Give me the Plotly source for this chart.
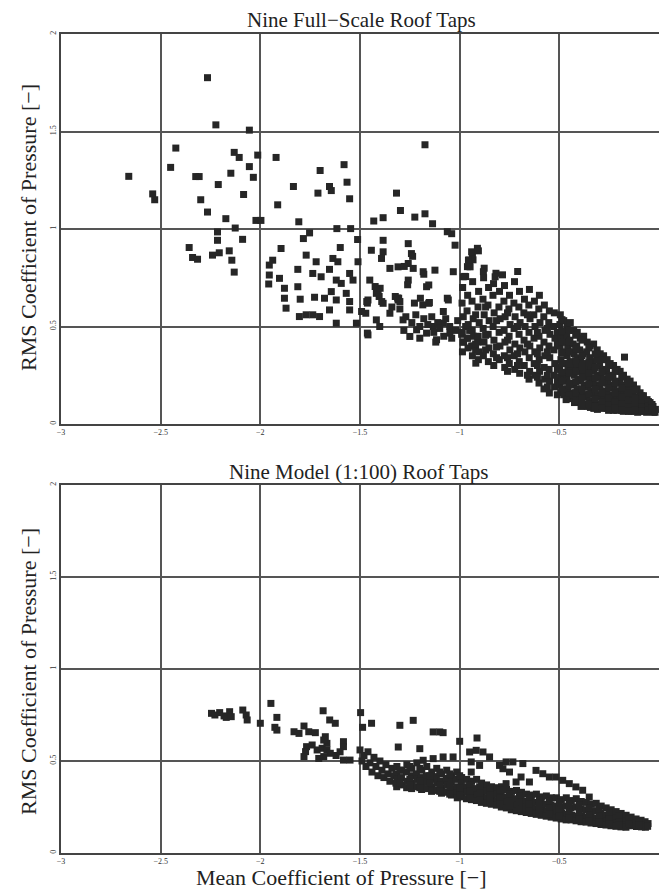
import plotly.graph_objects as go

# ---------------- data ----------------
# Nine Full-Scale Roof Taps : (mean Cp, rms Cp)
full_scale_taps = [
    (-2.66,1.27),(-2.54,1.18),(-2.53,1.15),(-2.424,1.415),(-2.45,1.316),(-2.324,1.269),(-2.307,1.269),
    (-2.265,1.776),(-2.223,1.534),(-2.055,1.507),(-2.131,1.393),(-2.106,1.367),(-2.013,1.379),(-1.921,1.367),
    (-2.055,1.32),(-2.035,1.265),(-2.148,1.286),(-2.211,1.228),(-2.084,1.177),(-2.299,1.15),(-2.265,1.087),
    (-2.173,1.053),(-2.126,1.005),(-2.215,0.985),(-2.215,0.942),(-2.089,0.947),(-2.022,1.044),(-1.997,1.044),
    (-2.357,0.905),(-2.34,0.854),(-2.315,0.845),(-2.24,0.866),(-2.206,0.878),(-2.156,0.888),(-2.143,0.84),
    (-2.131,0.779),(-1.834,1.218),(-1.913,1.124),(-1.7,1.3),(-1.58,1.33),(-1.565,1.24),(-1.653,1.218),
    (-1.644,1.197),(-1.711,1.184),(-1.552,1.155),(-1.807,1.037),(-1.753,0.98),(-1.784,0.951),(-1.616,1.002),
    (-1.547,1.002),(-1.512,0.946),(-1.896,0.9),(-1.938,0.84),(-1.955,0.815),(-1.955,0.764),(-1.958,0.718),
    (-1.904,0.747),(-1.879,0.696),(-1.879,0.645),(-1.871,0.594),(-1.812,0.793),(-1.812,0.704),(-1.8,0.64),
    (-1.77,0.866),(-1.72,0.832),(-1.737,0.772),(-1.695,0.755),(-1.653,0.793),(-1.636,0.849),(-1.611,0.832),
    (-1.599,0.905),(-1.619,0.738),(-1.594,0.721),(-1.552,0.772),(-1.535,0.738),(-1.51,0.832),(-1.728,0.65),
    (-1.678,0.645),(-1.644,0.679),(-1.619,0.636),(-1.569,0.67),(-1.552,0.628),(-1.804,0.551),(-1.77,0.56),
    (-1.737,0.56),(-1.703,0.551),(-1.653,0.585),(-1.619,0.517),(-1.552,0.585),(-1.518,0.517),
    (-1.46,0.457),(-1.443,0.891),(-1.384,0.942),(-1.384,0.883),(-1.392,0.849),(-1.431,1.041),(-1.384,1.058),
    (-1.317,1.184),(-1.297,1.095),(-1.225,1.061),(-1.174,1.078),(-1.136,1.027),(-1.174,1.432),(-1.451,0.738),
    (-1.409,0.687),(-1.418,0.67),(-1.46,0.636),(-1.384,0.619),(-1.309,0.636),(-1.35,0.798),(-1.309,0.806),
    (-1.258,0.925),(-1.242,0.874),(-1.258,0.823),(-1.258,0.738),(-1.233,0.798),(-1.183,0.781),(-1.166,0.704),
    (-1.124,0.789),(-1.082,0.577),(-1.057,0.636),(-1.04,0.976),(-1.023,0.917),(-1.032,0.781),(-1.418,0.534),
    (-1.401,0.5),(-1.35,0.568),(-1.284,0.534),(-1.25,0.449),(-1.216,0.483),(-1.166,0.466),(-1.132,0.5),
    (-1.116,0.432),(-1.082,0.517),(-1.049,0.466),(-1.236,0.86),(-1.261,0.714),(-1.278,0.808),(-1.404,0.654),
    (-1.463,0.62),(-1.471,0.568),(-1.311,0.646),(-1.3,0.628),(-1.227,0.62),(-1.185,0.611),(-1.152,0.623),
    (-1.463,0.466),(-1.18,0.768),(-1.062,0.986),(-1.424,0.705),(-1.399,0.696),(-1.306,0.645),(-1.323,0.654),
    (-1.492,0.577),(-1.466,0.628),(-1.391,0.628),(-1.197,0.645),(-1.155,0.619),(-1.062,0.645),(-1.155,0.713),
    (-0.933,0.842),(-0.95,0.808),(-0.975,0.757),(-0.911,0.901),(-0.953,0.841),(-0.936,0.858),(-0.961,0.807),
    (-0.877,0.799),(-0.97,0.756),(-0.818,0.773),(-0.785,0.765),(-0.709,0.782),(-0.956,0.84),(-0.94,0.883),
    (-0.906,0.888),(-0.982,0.755),(-0.948,0.806),(-0.881,0.781),(-0.822,0.755),
    (-1.27,0.55),(-1.24,0.52),(-1.22,0.56),(-1.2,0.5),(-1.18,0.54),(-1.16,0.51),(-1.14,0.55),(-1.13,0.47),
    (-1.11,0.52),(-1.1,0.49),(-1.08,0.45),(-1.07,0.54),(-1.05,0.5),(-1.04,0.44),(-1.02,0.48),(-1.01,0.53),
    (-0.99,0.46),(-0.98,0.42),(-0.97,0.5),(-0.96,0.44),(-0.95,0.48),(-0.94,0.4),(-0.93,0.45),(-0.92,0.38),
    (-0.91,0.42),(-1.3,0.59),(-1.34,0.6),(-1.28,0.48),(-1.2,0.44),(-1.12,0.42),
    # -1.0 .. -0.5 (medium density)
    (-0.985,0.70),(-0.988,0.62),(-0.982,0.55),(-0.987,0.47),(-0.983,0.42),(-0.986,0.37),
    (-0.96,0.66),(-0.963,0.58),(-0.957,0.51),(-0.962,0.44),(-0.958,0.39),
    (-0.935,0.73),(-0.938,0.63),(-0.932,0.54),(-0.937,0.48),(-0.933,0.40),(-0.936,0.35),
    (-0.905,0.68),(-0.908,0.60),(-0.902,0.52),(-0.907,0.45),(-0.903,0.37),(-0.906,0.33),
    (-0.88,0.75),(-0.883,0.64),(-0.877,0.56),(-0.882,0.49),(-0.878,0.42),(-0.881,0.35),
    (-0.855,0.70),(-0.858,0.61),(-0.852,0.53),(-0.857,0.46),(-0.853,0.39),(-0.856,0.32),
    (-0.83,0.72),(-0.833,0.66),(-0.827,0.57),(-0.832,0.50),(-0.828,0.43),(-0.831,0.36),(-0.829,0.30),
    (-0.80,0.68),(-0.803,0.60),(-0.797,0.54),(-0.802,0.47),(-0.798,0.40),(-0.801,0.33),
    (-0.775,0.71),(-0.778,0.63),(-0.772,0.55),(-0.777,0.48),(-0.773,0.42),(-0.776,0.35),(-0.774,0.29),
    (-0.75,0.66),(-0.753,0.59),(-0.747,0.51),(-0.752,0.45),(-0.748,0.38),(-0.751,0.31),
    (-0.725,0.73),(-0.728,0.62),(-0.722,0.55),(-0.727,0.49),(-0.723,0.41),(-0.726,0.35),(-0.724,0.28),
    (-0.70,0.68),(-0.703,0.60),(-0.697,0.52),(-0.702,0.46),(-0.698,0.39),(-0.701,0.32),(-0.699,0.26),
    (-0.675,0.64),(-0.678,0.57),(-0.672,0.50),(-0.677,0.43),(-0.673,0.37),(-0.676,0.30),
    (-0.65,0.69),(-0.653,0.61),(-0.647,0.54),(-0.652,0.47),(-0.648,0.40),(-0.651,0.34),(-0.649,0.27),(-0.652,0.23),
    (-0.625,0.63),(-0.628,0.56),(-0.622,0.50),(-0.627,0.44),(-0.623,0.37),(-0.626,0.31),(-0.624,0.25),
    (-0.60,0.66),(-0.603,0.59),(-0.597,0.52),(-0.602,0.45),(-0.598,0.39),(-0.601,0.33),(-0.599,0.27),(-0.602,0.21),
    (-0.575,0.61),(-0.578,0.55),(-0.572,0.48),(-0.577,0.42),(-0.573,0.35),(-0.576,0.29),(-0.574,0.23),(-0.577,0.18),
    (-0.55,0.58),(-0.553,0.52),(-0.547,0.46),(-0.552,0.40),(-0.548,0.34),(-0.551,0.28),(-0.549,0.22),
    (-0.525,0.57),(-0.528,0.50),(-0.522,0.44),(-0.527,0.38),(-0.523,0.31),(-0.526,0.25),(-0.524,0.19),
    (-0.92,0.56),(-0.92,0.41),(-0.87,0.60),(-0.87,0.455),(-0.87,0.38),(-0.815,0.53),(-0.815,0.395),(-0.815,0.34),
    (-0.76,0.57),(-0.76,0.43),(-0.76,0.34),(-0.71,0.50),(-0.71,0.36),(-0.71,0.30),(-0.66,0.56),(-0.66,0.41),
    (-0.66,0.25),(-0.61,0.47),(-0.61,0.36),(-0.61,0.30),(-0.61,0.24),(-0.56,0.49),(-0.56,0.37),(-0.56,0.25),
    (-0.56,0.19),(-0.51,0.47),(-0.51,0.41),(-0.51,0.28),(-0.51,0.22),
    # -0.5 .. 0 (dense)
    (-0.495,0.56),(-0.497,0.51),(-0.493,0.44),(-0.496,0.40),(-0.492,0.33),(-0.498,0.29),(-0.494,0.24),(-0.497,0.20),(-0.493,0.16),
    (-0.478,0.53),(-0.481,0.47),(-0.476,0.42),(-0.479,0.37),(-0.475,0.31),(-0.48,0.26),(-0.477,0.22),(-0.474,0.15),
    (-0.46,0.50),(-0.463,0.45),(-0.458,0.39),(-0.461,0.35),(-0.457,0.28),(-0.462,0.24),(-0.459,0.18),(-0.456,0.13),
    (-0.445,0.52),(-0.447,0.43),(-0.442,0.37),(-0.446,0.32),(-0.443,0.27),(-0.448,0.21),(-0.444,0.16),
    (-0.428,0.48),(-0.431,0.41),(-0.426,0.36),(-0.43,0.30),(-0.425,0.25),(-0.429,0.20),(-0.427,0.14),(-0.424,0.11),
    (-0.41,0.47),(-0.413,0.40),(-0.408,0.34),(-0.412,0.29),(-0.407,0.23),(-0.411,0.18),(-0.409,0.13),
    (-0.395,0.44),(-0.398,0.38),(-0.393,0.33),(-0.397,0.27),(-0.392,0.22),(-0.396,0.16),(-0.394,0.12),(-0.391,0.09),
    (-0.378,0.45),(-0.381,0.36),(-0.376,0.31),(-0.38,0.26),(-0.375,0.20),(-0.379,0.15),(-0.377,0.10),
    (-0.36,0.42),(-0.363,0.37),(-0.358,0.29),(-0.362,0.24),(-0.357,0.19),(-0.361,0.14),(-0.359,0.09),
    (-0.345,0.40),(-0.348,0.34),(-0.343,0.28),(-0.347,0.23),(-0.342,0.17),(-0.346,0.12),(-0.344,0.085),
    (-0.328,0.41),(-0.331,0.32),(-0.326,0.27),(-0.33,0.21),(-0.325,0.16),(-0.329,0.11),(-0.327,0.08),
    (-0.31,0.38),(-0.313,0.33),(-0.308,0.25),(-0.312,0.20),(-0.307,0.15),(-0.311,0.10),(-0.309,0.075),
    (-0.295,0.36),(-0.298,0.30),(-0.293,0.24),(-0.297,0.19),(-0.292,0.14),(-0.296,0.09),
    (-0.278,0.35),(-0.281,0.28),(-0.276,0.23),(-0.28,0.17),(-0.275,0.13),(-0.279,0.085),
    (-0.26,0.33),(-0.263,0.27),(-0.258,0.21),(-0.262,0.16),(-0.257,0.12),(-0.261,0.08),
    (-0.245,0.31),(-0.248,0.25),(-0.243,0.20),(-0.247,0.15),(-0.242,0.11),(-0.246,0.075),
    (-0.228,0.30),(-0.231,0.24),(-0.226,0.19),(-0.23,0.14),(-0.225,0.10),(-0.229,0.07),
    (-0.21,0.28),(-0.213,0.22),(-0.208,0.17),(-0.212,0.13),(-0.207,0.095),(-0.211,0.07),
    (-0.195,0.27),(-0.198,0.21),(-0.193,0.16),(-0.197,0.12),(-0.192,0.085),
    (-0.178,0.25),(-0.181,0.20),(-0.176,0.15),(-0.18,0.11),(-0.175,0.08),(-0.179,0.065),
    (-0.16,0.23),(-0.163,0.18),(-0.158,0.14),(-0.162,0.10),(-0.157,0.07),
    (-0.145,0.22),(-0.148,0.17),(-0.143,0.13),(-0.147,0.095),(-0.142,0.065),
    (-0.128,0.20),(-0.131,0.155),(-0.126,0.12),(-0.13,0.085),(-0.125,0.065),
    (-0.11,0.18),(-0.113,0.14),(-0.108,0.11),(-0.112,0.08),(-0.107,0.06),
    (-0.095,0.16),(-0.098,0.13),(-0.093,0.10),(-0.097,0.075),
    (-0.078,0.145),(-0.081,0.115),(-0.076,0.09),(-0.08,0.065),
    (-0.06,0.125),(-0.063,0.10),(-0.058,0.075),(-0.062,0.06),
    (-0.045,0.11),(-0.048,0.085),(-0.043,0.065),
    (-0.03,0.09),(-0.033,0.07),(-0.028,0.06),
    (-0.018,0.075),(-0.02,0.06),
    (-0.487,0.535),(-0.487,0.475),(-0.487,0.42),(-0.487,0.365),(-0.487,0.31),(-0.487,0.265),(-0.487,0.22),(-0.487,0.18),
    (-0.452,0.48),(-0.452,0.42),(-0.452,0.37),(-0.452,0.31),(-0.452,0.26),(-0.452,0.20),(-0.452,0.15),
    (-0.418,0.455),(-0.418,0.385),(-0.418,0.325),(-0.418,0.27),(-0.418,0.215),(-0.418,0.16),(-0.418,0.12),
    (-0.386,0.43),(-0.386,0.35),(-0.386,0.295),(-0.386,0.24),(-0.386,0.18),(-0.386,0.135),(-0.386,0.10),
    (-0.352,0.39),(-0.352,0.315),(-0.352,0.26),(-0.352,0.205),(-0.352,0.155),(-0.352,0.105),
    (-0.32,0.36),(-0.32,0.29),(-0.32,0.235),(-0.32,0.18),(-0.32,0.13),(-0.32,0.09),
    (-0.287,0.33),(-0.287,0.265),(-0.287,0.21),(-0.287,0.16),(-0.287,0.115),(-0.287,0.08),
    (-0.253,0.30),(-0.253,0.24),(-0.253,0.185),(-0.253,0.135),(-0.253,0.095),(-0.253,0.07),
    (-0.22,0.27),(-0.22,0.21),(-0.22,0.16),(-0.22,0.115),(-0.22,0.08),
    (-0.187,0.24),(-0.187,0.185),(-0.187,0.14),(-0.187,0.10),(-0.187,0.07),
    (-0.153,0.21),(-0.153,0.16),(-0.153,0.12),(-0.153,0.085),(-0.153,0.065),
    (-0.12,0.175),(-0.12,0.135),(-0.12,0.10),(-0.12,0.07),
    (-0.087,0.145),(-0.087,0.11),(-0.087,0.085),(-0.087,0.065),
    (-0.053,0.115),(-0.053,0.09),(-0.053,0.07),(-0.035,0.10),(-0.035,0.08),
    (-0.173,0.343),(-0.55,0.159),(-0.466,0.125),(-0.919,0.312),(-0.76,0.27),(-0.51,0.15),
]

# Nine Model (1:100) Roof Taps : (mean Cp, rms Cp)
model_taps = [
    (-2.245,0.759),(-2.228,0.75),(-2.204,0.763),(-2.182,0.745),(-2.171,0.737),(-2.154,0.768),(-2.146,0.741),
    (-2.088,0.777),(-2.071,0.75),(-2.066,0.723),(-2.0,0.705),(-1.947,0.813),(-1.917,0.737),(-1.927,0.683),
    (-1.917,0.668),(-1.831,0.659),(-1.806,0.65),(-1.781,0.69),(-1.757,0.659),(-1.724,0.654),(-1.685,0.773),
    (-1.652,0.723),(-1.624,0.705),(-1.674,0.632),(-1.666,0.596),(-1.768,0.578),(-1.773,0.551),(-1.781,0.524),
    (-1.497,0.763),(-1.487,0.683),(-1.442,0.705),(-1.583,0.605),(-1.583,0.578),(-1.583,0.505),(-1.55,0.505),
    (-1.74,0.587),(-1.715,0.56),(-1.69,0.569),(-1.666,0.56),(-1.649,0.542),(-1.682,0.524),(-1.707,0.514),
    (-1.682,0.614),(-1.62,0.53),(-1.6,0.55),
    (-1.5,0.56),(-1.49,0.5),(-1.48,0.53),(-1.47,0.47),(-1.46,0.55),(-1.45,0.49),(-1.44,0.44),(-1.43,0.52),
    (-1.42,0.47),(-1.41,0.42),(-1.4,0.5),(-1.39,0.45),(-1.38,0.41),(-1.37,0.48),(-1.36,0.43),(-1.35,0.39),
    (-1.34,0.46),(-1.33,0.42),(-1.32,0.38),
    (-1.3,0.694),(-1.233,0.721),(-1.133,0.658),(-1.1,0.658),(-1.083,0.654),(-1.308,0.576),(-1.2,0.567),
    (-1.0,0.607),(-0.913,0.625),
    (-1.183,0.504),(-1.133,0.513),(-1.083,0.522),(-1.033,0.522),(-0.95,0.549),(-0.917,0.558),(-0.883,0.549),
    (-0.85,0.522),(-0.942,0.495),(-0.942,0.44),(-0.9,0.476),(-0.8,0.476),(-0.767,0.495),(-0.733,0.495),
    (-0.683,0.486),(-0.783,0.458),(-0.75,0.44),(-0.617,0.449),(-0.583,0.431),(-0.55,0.413),(-0.517,0.413),
    (-0.483,0.395),(-0.45,0.377),(-0.417,0.359),(-0.383,0.341),(-0.35,0.304),(-0.692,0.413),(-0.65,0.386),
    (-0.767,0.377),(-0.717,0.386),
    # main band
    (-1.315,0.47),(-1.317,0.43),(-1.313,0.40),(-1.316,0.36),
    (-1.29,0.45),(-1.292,0.41),(-1.288,0.37),
    (-1.265,0.48),(-1.267,0.44),(-1.263,0.39),(-1.266,0.355),
    (-1.24,0.46),(-1.242,0.42),(-1.238,0.38),(-1.241,0.35),
    (-1.215,0.49),(-1.217,0.43),(-1.213,0.40),(-1.216,0.36),
    (-1.19,0.45),(-1.192,0.41),(-1.188,0.375),(-1.191,0.345),
    (-1.165,0.47),(-1.167,0.42),(-1.163,0.385),(-1.166,0.35),
    (-1.14,0.44),(-1.142,0.40),(-1.138,0.36),(-1.141,0.335),
    (-1.115,0.46),(-1.117,0.415),(-1.113,0.38),(-1.116,0.34),
    (-1.09,0.43),(-1.092,0.39),(-1.088,0.355),(-1.091,0.325),
    (-1.065,0.45),(-1.067,0.405),(-1.063,0.37),(-1.066,0.33),
    (-1.04,0.42),(-1.042,0.385),(-1.038,0.35),(-1.041,0.315),
    (-1.015,0.44),(-1.017,0.40),(-1.013,0.36),(-1.016,0.325),(-1.012,0.30),
    (-0.99,0.41),(-0.992,0.375),(-0.988,0.34),(-0.991,0.305),
    (-0.965,0.40),(-0.967,0.36),(-0.963,0.33),(-0.966,0.295),
    (-0.94,0.39),(-0.942,0.355),(-0.938,0.32),(-0.941,0.29),
    (-0.915,0.40),(-0.917,0.35),(-0.913,0.315),(-0.916,0.285),
    (-0.89,0.38),(-0.892,0.345),(-0.888,0.31),(-0.891,0.275),
    (-0.865,0.37),(-0.867,0.335),(-0.863,0.30),(-0.866,0.27),
    (-0.84,0.36),(-0.842,0.33),(-0.838,0.295),(-0.841,0.265),
    (-0.815,0.355),(-0.817,0.32),(-0.813,0.285),(-0.816,0.26),
    (-0.79,0.36),(-0.792,0.315),(-0.788,0.28),(-0.791,0.25),
    (-0.765,0.345),(-0.767,0.305),(-0.763,0.275),(-0.766,0.245),
    (-0.74,0.335),(-0.742,0.30),(-0.738,0.265),(-0.741,0.235),
    (-0.715,0.34),(-0.717,0.295),(-0.713,0.26),(-0.716,0.23),
    (-0.69,0.33),(-0.692,0.29),(-0.688,0.255),(-0.691,0.225),
    (-0.665,0.32),(-0.667,0.28),(-0.663,0.25),(-0.666,0.22),
    (-0.64,0.315),(-0.642,0.28),(-0.638,0.245),(-0.641,0.215),
    (-0.615,0.32),(-0.617,0.275),(-0.613,0.24),(-0.616,0.21),
    (-0.59,0.305),(-0.592,0.27),(-0.588,0.235),(-0.591,0.205),
    (-0.565,0.31),(-0.567,0.265),(-0.563,0.23),(-0.566,0.20),
    (-0.54,0.30),(-0.542,0.26),(-0.538,0.225),(-0.541,0.195),
    (-0.515,0.30),(-0.517,0.255),(-0.513,0.22),(-0.516,0.19),
    (-0.49,0.29),(-0.492,0.25),(-0.488,0.215),(-0.491,0.185),
    (-0.465,0.30),(-0.467,0.255),(-0.463,0.21),(-0.466,0.18),
    (-0.44,0.285),(-0.442,0.245),(-0.438,0.205),(-0.441,0.18),
    (-0.415,0.295),(-0.417,0.25),(-0.413,0.20),(-0.416,0.175),
    (-0.39,0.28),(-0.392,0.24),(-0.388,0.20),(-0.391,0.17),
    (-0.365,0.275),(-0.367,0.235),(-0.363,0.195),(-0.366,0.168),
    (-0.34,0.265),(-0.342,0.225),(-0.338,0.19),(-0.341,0.163),
    (-0.315,0.27),(-0.317,0.23),(-0.313,0.19),(-0.316,0.16),
    (-0.29,0.255),(-0.292,0.215),(-0.288,0.18),(-0.291,0.155),
    (-0.265,0.245),(-0.267,0.205),(-0.263,0.175),(-0.266,0.152),
    (-0.24,0.235),(-0.242,0.20),(-0.238,0.17),(-0.241,0.148),
    (-0.215,0.225),(-0.217,0.19),(-0.213,0.163),(-0.216,0.145),
    (-0.19,0.215),(-0.192,0.183),(-0.188,0.158),(-0.191,0.142),
    (-0.165,0.205),(-0.167,0.175),(-0.163,0.152),(-0.166,0.14),
    (-0.14,0.195),(-0.142,0.168),(-0.138,0.148),
    (-0.115,0.185),(-0.117,0.162),(-0.113,0.144),
    (-0.09,0.178),(-0.092,0.157),(-0.088,0.142),
    (-0.07,0.17),(-0.072,0.152),(-0.068,0.14),
    (-0.055,0.16),(-0.057,0.145),
    (-1.30,0.45),(-1.30,0.38),(-1.25,0.47),(-1.25,0.40),(-1.25,0.37),(-1.20,0.46),(-1.20,0.39),(-1.20,0.355),
    (-1.15,0.42),(-1.15,0.38),(-1.10,0.44),(-1.10,0.37),(-1.10,0.335),(-1.05,0.43),(-1.05,0.36),(-1.05,0.32),
    (-1.00,0.42),(-1.00,0.355),(-1.00,0.315),(-0.95,0.37),(-0.95,0.335),(-0.95,0.30),(-0.90,0.36),(-0.90,0.325),
    (-0.90,0.29),(-0.85,0.35),(-0.85,0.315),(-0.85,0.28),(-0.80,0.34),(-0.80,0.30),(-0.80,0.265),(-0.75,0.32),
    (-0.75,0.285),(-0.75,0.255),(-0.70,0.31),(-0.70,0.275),(-0.70,0.24),(-0.65,0.30),(-0.65,0.265),(-0.65,0.23),
    (-0.60,0.29),(-0.60,0.255),(-0.60,0.22),(-0.55,0.285),(-0.55,0.245),(-0.55,0.21),(-0.50,0.275),(-0.50,0.235),
    (-0.50,0.20),(-0.45,0.265),(-0.45,0.225),(-0.45,0.19),(-0.40,0.26),(-0.40,0.22),(-0.40,0.185),(-0.35,0.245),
    (-0.35,0.205),(-0.35,0.175),(-0.30,0.24),(-0.30,0.20),(-0.30,0.17),(-0.25,0.215),(-0.25,0.185),(-0.25,0.16),
    (-0.20,0.20),(-0.20,0.17),(-0.20,0.15),(-0.15,0.185),(-0.15,0.16),(-0.10,0.17),(-0.10,0.15),
]

x_tick_vals = [-3, -2.5, -2, -1.5, -1, -0.5, 0]
x_tick_text = ["\u22123", "\u22122.5", "\u22122", "\u22121.5", "\u22121", "\u22120.5", "0"]
y_tick_vals = [0, 0.5, 1, 1.5, 2]
y_tick_text = ["0", "0.5", "1", "1.5", "2"]

top_title = "Nine Full\u2212Scale Roof Taps"
bottom_title = "Nine Model (1:100) Roof Taps"
x_title = "Mean Coefficient of Pressure [\u2212]"
y_title = "RMS Coefficient of Pressure [\u2212]"

# ---------------- figure ----------------
W, H = 659, 894
ML, MR, MT, MB = 61, 0, 34, 41
PH = H - MT - MB

def py(px):  # pixel from top -> paper y
    return 1 - (px - MT) / PH

def pxp(px):  # pixel from left -> paper x
    return (px - ML) / (W - ML - MR)

marker = dict(symbol="square", size=7, color="#262626", line=dict(width=0))

fig = go.Figure()
fig.add_trace(go.Scatter(x=[p[0] for p in full_scale_taps], y=[p[1] for p in full_scale_taps],
                         mode="markers", marker=marker, xaxis="x", yaxis="y", showlegend=False))
fig.add_trace(go.Scatter(x=[p[0] for p in model_taps], y=[p[1] for p in model_taps],
                         mode="markers", marker=marker, xaxis="x2", yaxis="y2", showlegend=False))

serif = "Liberation Serif, Times New Roman, serif"
axis_common = dict(showgrid=True, gridcolor="#555", gridwidth=1.5, showline=True, mirror=True,
                   linecolor="#444", linewidth=1.5, zeroline=False, ticks="", automargin=False,
                   tickfont=dict(family=serif, size=8, color="#333"))

fig.update_layout(
    width=W, height=H, margin=dict(l=ML, r=MR, t=MT, b=MB, autoexpand=False),
    paper_bgcolor="white", plot_bgcolor="white",
    xaxis=dict(domain=[0, 1], anchor="y", range=[-3, 0], tickvals=x_tick_vals, ticktext=x_tick_text, **axis_common),
    yaxis=dict(domain=[py(424), 1], anchor="x", range=[0, 2], tickvals=y_tick_vals, ticktext=y_tick_text,
               tickangle=-90, **axis_common),
    xaxis2=dict(domain=[0, 1], anchor="y2", range=[-3, 0], tickvals=x_tick_vals, ticktext=x_tick_text, **axis_common),
    yaxis2=dict(domain=[0, py(485)], anchor="x2", range=[0, 2], tickvals=y_tick_vals, ticktext=y_tick_text,
                tickangle=-90, **axis_common),
    annotations=[
        dict(text=top_title, xref="paper", yref="paper", x=pxp(361), y=py(20), showarrow=False,
             xanchor="center", yanchor="middle", font=dict(family=serif, size=21, color="#222")),
        dict(text=bottom_title, xref="paper", yref="paper", x=pxp(358), y=py(472), showarrow=False,
             xanchor="center", yanchor="middle", font=dict(family=serif, size=21, color="#222")),
        dict(text=x_title, xref="paper", yref="paper", x=pxp(341), y=py(878), showarrow=False,
             xanchor="center", yanchor="middle", font=dict(family=serif, size=22, color="#222")),
        dict(text=y_title, xref="paper", yref="paper", x=pxp(28), y=py(228), showarrow=False,
             textangle=-90, xanchor="center", yanchor="middle", font=dict(family=serif, size=22, color="#222")),
        dict(text=y_title, xref="paper", yref="paper", x=pxp(28), y=py(672), showarrow=False,
             textangle=-90, xanchor="center", yanchor="middle", font=dict(family=serif, size=22, color="#222")),
    ],
)

fig.write_html("out.html", config={"displayModeBar": False},
               post_script="document.body.style.margin='0';document.body.style.overflow='hidden';")
